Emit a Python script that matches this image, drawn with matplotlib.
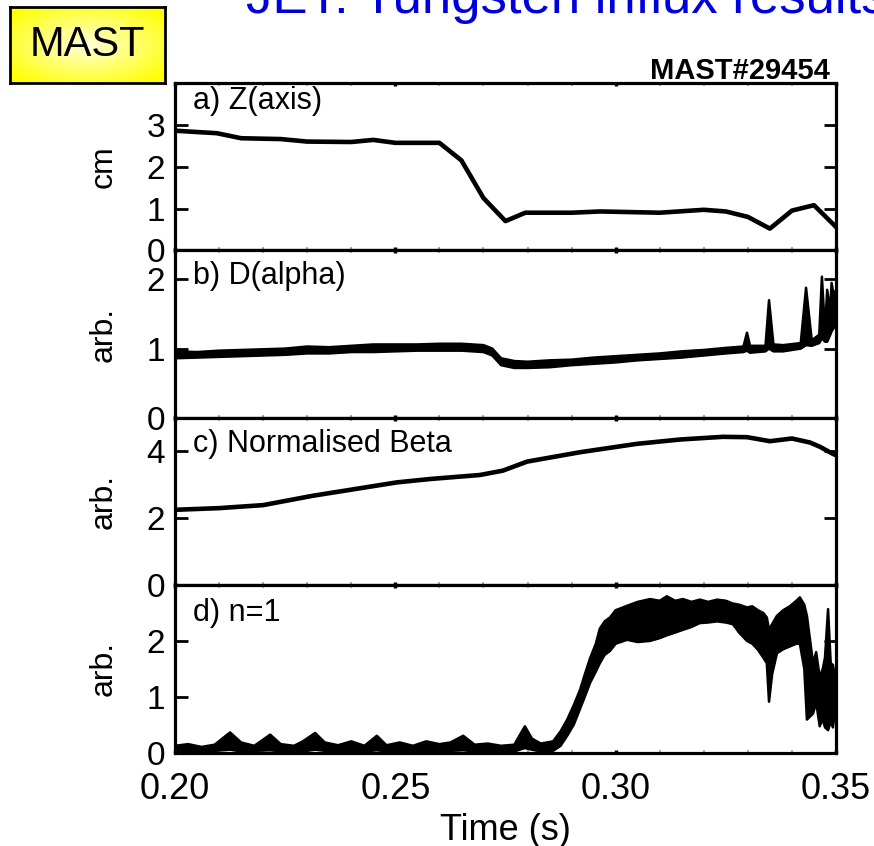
import numpy as np
import matplotlib
matplotlib.use('Agg')
import matplotlib.pyplot as plt
from matplotlib.ticker import MultipleLocator

plt.rcParams['font.family'] = ['Liberation Sans', 'DejaVu Sans']

# a) Z(axis), cm
t_z = [0.200, 0.2095, 0.215, 0.224, 0.230, 0.240, 0.245, 0.250, 0.260, 0.265,
       0.270, 0.275, 0.2795, 0.290, 0.2965, 0.310, 0.320, 0.325, 0.330, 0.335,
       0.340, 0.345, 0.350]
z_axis = [2.86, 2.80, 2.68, 2.66, 2.60, 2.59, 2.64, 2.57, 2.57, 2.15,
          1.25, 0.70, 0.90, 0.90, 0.93, 0.90, 0.97, 0.93, 0.80, 0.52,
          0.95, 1.08, 0.56]

# b) D(alpha): lower / upper edge of the noisy trace
t_da = [0.200, 0.205, 0.210, 0.215, 0.220, 0.225, 0.230, 0.235, 0.240, 0.245,
        0.250, 0.255, 0.260, 0.265, 0.270, 0.272, 0.274, 0.277, 0.280, 0.285,
        0.290, 0.295, 0.300, 0.305, 0.310, 0.315, 0.320, 0.325, 0.329, 0.3298,
        0.3305, 0.334, 0.3348, 0.3358, 0.338, 0.342, 0.3432, 0.3445, 0.3462, 0.3468,
        0.3475, 0.348, 0.3487, 0.349, 0.3495, 0.350]
da_lo = [0.86, 0.87, 0.88, 0.89, 0.90, 0.91, 0.93, 0.93, 0.95, 0.95,
         0.96, 0.97, 0.97, 0.97, 0.95, 0.90, 0.76, 0.72, 0.72, 0.73,
         0.76, 0.78, 0.80, 0.83, 0.85, 0.87, 0.90, 0.93, 0.95, 0.97,
         0.94, 0.96, 1.00, 0.96, 0.96, 1.00, 1.05, 1.04, 1.08, 1.15,
         1.10, 1.10, 1.20, 1.25, 1.30, 1.40]
da_hi = [0.96, 0.95, 0.97, 0.98, 0.99, 1.00, 1.03, 1.02, 1.04, 1.06,
         1.06, 1.06, 1.07, 1.07, 1.05, 1.00, 0.86, 0.82, 0.81, 0.83,
         0.84, 0.87, 0.89, 0.91, 0.93, 0.96, 0.98, 1.01, 1.03, 1.23,
         1.04, 1.04, 1.70, 1.06, 1.05, 1.08, 1.88, 1.12, 1.20, 2.04,
         1.25, 1.85, 1.55, 1.95, 1.75, 1.85]

# c) Normalised Beta
t_beta = [0.200, 0.210, 0.220, 0.2313, 0.2504, 0.2579, 0.2692, 0.2744, 0.2799, 0.2919,
          0.3048, 0.3146, 0.3243, 0.3298, 0.335, 0.340, 0.3441, 0.3464, 0.3493, 0.350]
beta_n = [2.25, 2.30, 2.39, 2.67, 3.07, 3.17, 3.29, 3.42, 3.69, 3.97,
          4.22, 4.35, 4.43, 4.42, 4.30, 4.38, 4.26, 4.13, 3.92, 3.88]

# d) n=1 mode amplitude: lower / upper edge
t_n1 = [0.200, 0.203, 0.206, 0.209, 0.2125, 0.215, 0.218, 0.2216, 0.224, 0.227,
        0.229, 0.2318, 0.234, 0.237, 0.240, 0.243, 0.2458, 0.248, 0.251, 0.254,
        0.257, 0.260, 0.2625, 0.2654, 0.268, 0.271, 0.274, 0.277, 0.2794, 0.281,
        0.283, 0.2858, 0.2875, 0.289, 0.2905, 0.2919, 0.293, 0.2942, 0.2955, 0.2964,
        0.2975, 0.2987, 0.300, 0.3026, 0.305, 0.3078, 0.310, 0.3116, 0.3135, 0.3153,
        0.3172, 0.3191, 0.321, 0.323, 0.325, 0.3266, 0.328, 0.3298, 0.331, 0.3323,
        0.3335, 0.3343, 0.3348, 0.3355, 0.3366, 0.338, 0.3395, 0.341, 0.3418, 0.3428,
        0.3434, 0.3448, 0.3455, 0.3463, 0.347, 0.3475, 0.3482, 0.3488, 0.3493, 0.3497,
        0.350]
n1_lo = [0.02, 0.03, 0.02, 0.03, 0.05, 0.02, 0.03, 0.04, 0.02, 0.03,
         0.02, 0.05, 0.03, 0.02, 0.03, 0.02, 0.04, 0.02, 0.03, 0.02,
         0.03, 0.02, 0.03, 0.04, 0.02, 0.03, 0.02, 0.02, 0.08, 0.05,
         0.02, 0.03, 0.12, 0.30, 0.50, 0.78, 1.00, 1.25, 1.45, 1.60,
         1.75, 1.82, 1.95, 2.02, 1.98, 2.00, 2.05, 2.10, 2.15, 2.20,
         2.25, 2.32, 2.33, 2.35, 2.33, 2.30, 2.15, 2.00, 1.95, 1.84,
         1.70, 1.60, 0.91, 1.40, 1.78, 1.85, 1.90, 1.95, 1.95, 1.50,
         0.59, 0.70, 0.90, 0.47, 0.60, 0.45, 0.40, 0.55, 0.45, 0.70,
         0.95]
n1_hi = [0.12, 0.15, 0.10, 0.14, 0.36, 0.18, 0.12, 0.32, 0.15, 0.12,
         0.20, 0.35, 0.18, 0.13, 0.20, 0.12, 0.30, 0.13, 0.18, 0.12,
         0.20, 0.15, 0.18, 0.30, 0.14, 0.16, 0.12, 0.14, 0.47, 0.25,
         0.16, 0.20, 0.38, 0.59, 0.85, 1.12, 1.40, 1.69, 1.95, 2.22,
         2.35, 2.42, 2.55, 2.63, 2.70, 2.75, 2.72, 2.80, 2.72, 2.75,
         2.70, 2.74, 2.70, 2.74, 2.72, 2.67, 2.65, 2.60, 2.62, 2.55,
         2.50, 2.42, 2.20, 2.30, 2.45, 2.55, 2.62, 2.72, 2.78, 2.65,
         2.45, 1.60, 1.80, 1.35, 1.50, 1.70, 2.57, 1.60, 1.57, 1.40,
         1.37]

panel_labels = ['a) Z(axis)', 'b) D(alpha)', 'c) Normalised Beta', 'd) n=1']
y_units = ['cm', 'arb.', 'arb.', 'arb.']
y_limits = [(0, 4), (0, 2.42), (0, 5), (0, 3)]
y_ticks = [[0, 1, 2, 3], [0, 1, 2], [0, 2, 4], [0, 1, 2]]
label_y = [0.845, 0.80, 0.795, 0.785]

fig, axes = plt.subplots(4, 1, figsize=(8.74, 8.46), dpi=100, sharex=True)
fig.subplots_adjust(left=175/874, right=836/874, top=1-83/846, bottom=1-752.5/846, hspace=0)

lw = 3.3
axes[0].plot(t_z, z_axis, color='black', lw=lw, solid_joinstyle='round')
axes[1].fill_between(t_da, da_lo, da_hi, color='black', lw=0)
axes[1].plot(t_da, da_lo, color='black', lw=1.8)
axes[1].plot(t_da, da_hi, color='black', lw=1.8)
axes[2].plot(t_beta, beta_n, color='black', lw=lw, solid_joinstyle='round')
axes[3].fill_between(t_n1, n1_lo, n1_hi, color='black', lw=0)
axes[3].plot(t_n1, n1_lo, color='black', lw=1.8)
axes[3].plot(t_n1, n1_hi, color='black', lw=1.8)

for i, ax in enumerate(axes):
    ax.set_xlim(0.20, 0.35)
    ax.set_ylim(*y_limits[i])
    ax.set_yticks(y_ticks[i])
    ax.xaxis.set_major_locator(MultipleLocator(0.05))
    ax.xaxis.set_minor_locator(MultipleLocator(0.01))
    for s in ax.spines.values():
        s.set_linewidth(2.3)
    ax.tick_params(axis='y', which='major', direction='in', left=True, right=True,
                   length=9, width=2, labelsize=24, pad=7)
    ax.tick_params(axis='x', which='major', direction='in', top=True, bottom=True,
                   length=2.5, width=2.5, labelsize=26, pad=14)
    ax.tick_params(axis='x', which='minor', direction='in', top=True, bottom=True,
                   length=2, width=1.2, color='#999999')
    ax.text(0.027, label_y[i], panel_labels[i], transform=ax.transAxes,
            fontsize=22, va='baseline', ha='left')
    ax.set_ylabel(y_units[i], fontsize=23)
    ax.yaxis.set_label_coords(-0.085, 0.5)

axes[3].set_xticks([0.20, 0.25, 0.30, 0.35])
axes[3].set_xticklabels(['0.20', '0.25', '0.30', '0.35'])
axes[3].set_xlabel('Time (s)', fontsize=26, labelpad=4)

fig.text(830/874, 1-79/846, 'MAST#29454', fontsize=21, fontweight='bold',
         ha='right', va='baseline')

# partly cut-off slide title
fig.text(246/874, 1-13/846, 'JET: Tungsten influx results', fontsize=38,
         color='#0000dd', ha='left', va='baseline')

# yellow MAST badge
badge = fig.add_axes([10/874, 1-83/846, 155/874, 76/846])
gx, gy = np.meshgrid(np.linspace(-1, 1, 80), np.linspace(-1, 1, 40))
rr = np.clip(np.sqrt(gx**2 + gy**2) / 1.3, 0, 1)
grad = np.dstack([np.ones_like(rr), np.ones_like(rr), 0.85 * (1 - rr)])
badge.imshow(grad, aspect='auto', extent=(0, 1, 0, 1), interpolation='bilinear')
badge.set_xticks([])
badge.set_yticks([])
for s in badge.spines.values():
    s.set_linewidth(2)
badge.text(0.5, 0.5, 'MAST', fontsize=30, ha='center', va='center', transform=badge.transAxes)

fig.savefig('out.png', dpi=100)
